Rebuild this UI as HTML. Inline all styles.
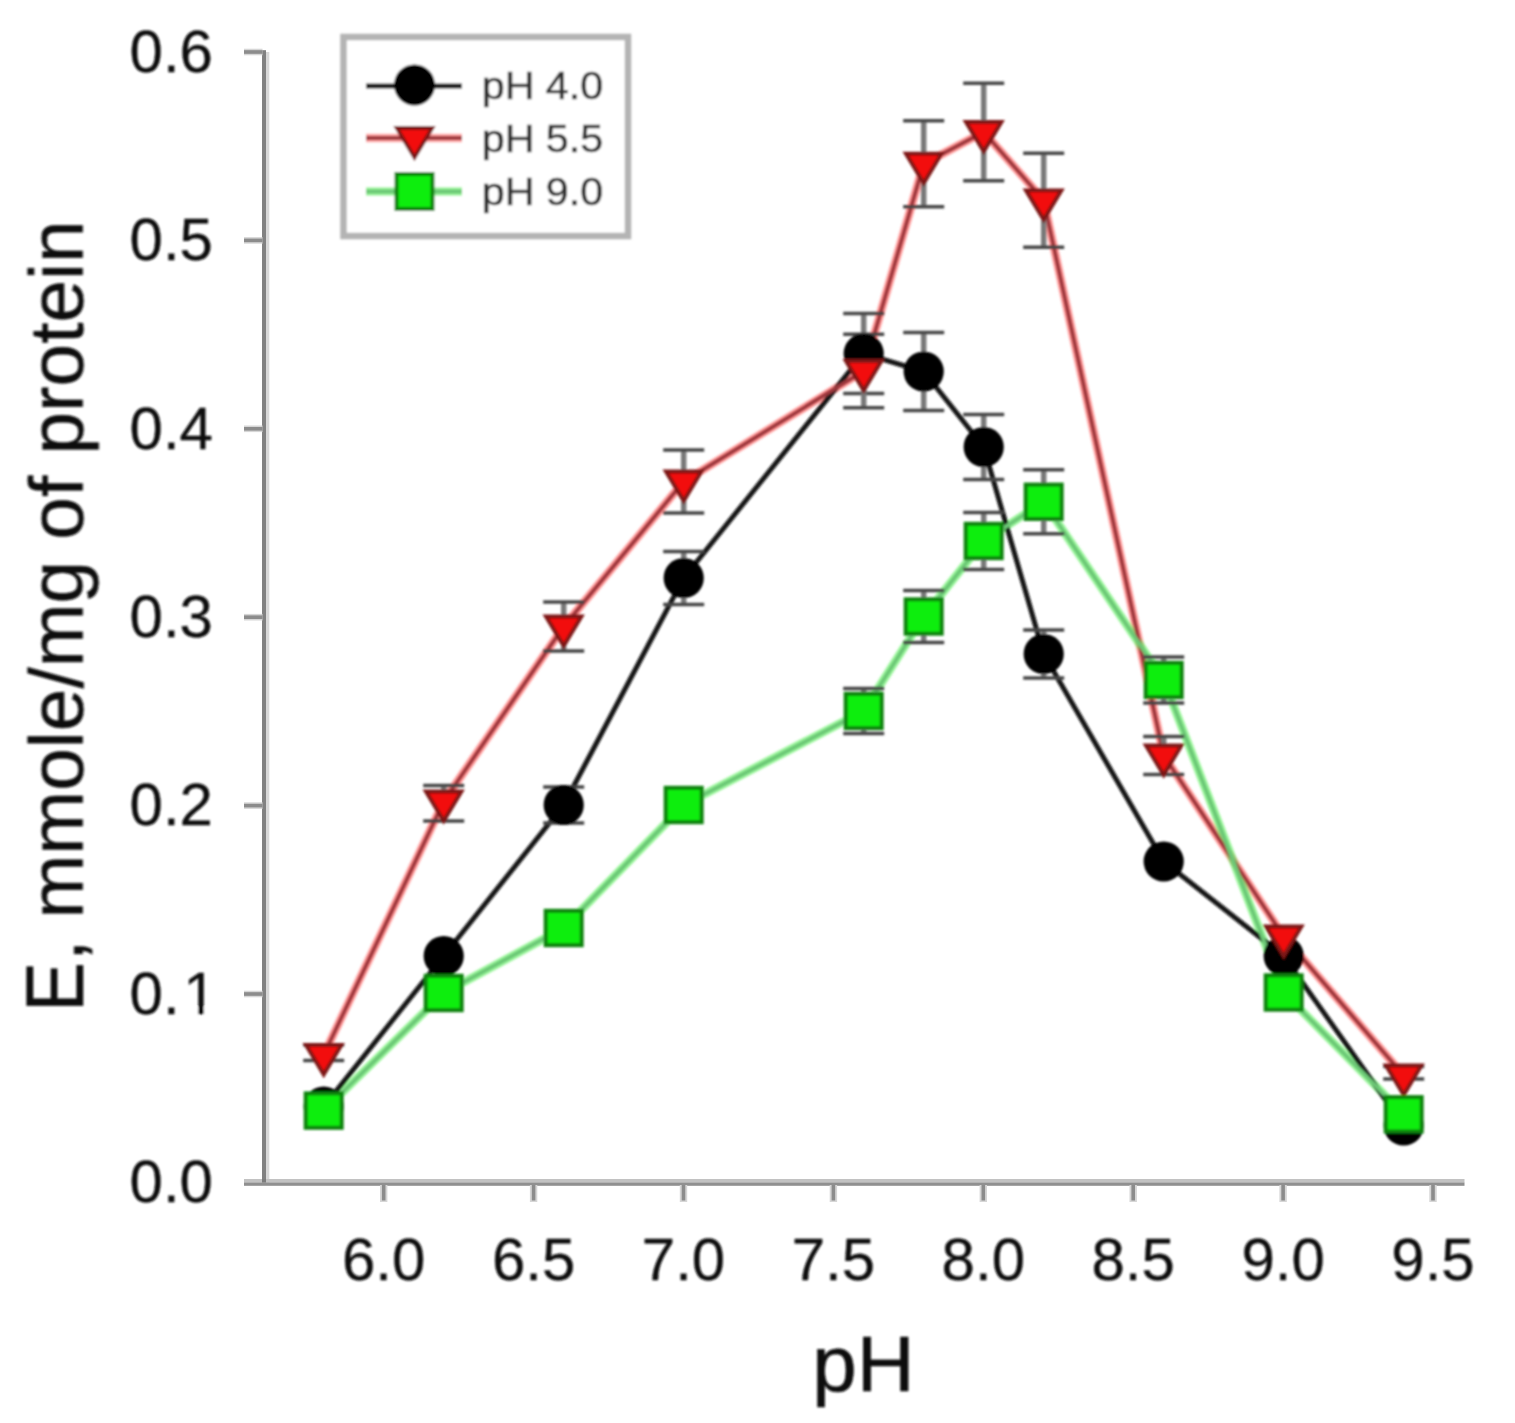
<!DOCTYPE html>
<html><head><meta charset="utf-8"><title>pH chart</title>
<style>
html,body{margin:0;padding:0;background:#fff;}
svg{display:block;font-family:"Liberation Sans",sans-serif;}
.tick{font-size:60px;fill:#111;stroke:#111;stroke-width:0.3;}
.leg{font-size:39.6px;fill:#333;stroke:#333;stroke-width:0.6;}
.st{stroke:#787878;stroke-width:5.5;}
</style></head><body>
<svg width="1515" height="1423" viewBox="0 0 1515 1423">
<rect width="1515" height="1423" fill="#fff"/>
<g filter="url(#b2)">
<!-- axes -->
<rect x="262" y="50.2" width="4" height="1132.3" fill="#818181"/>
<rect x="266" y="52" width="3.3" height="1130.5" fill="#d8d8d8"/>
<rect x="244" y="1179" width="1220.5" height="3.4" fill="#c2c2c2"/>
<rect x="244" y="1182.4" width="1220.5" height="3.4" fill="#909090"/>
<rect x="262" y="1179" width="4" height="3.4" fill="#7c7c7c"/>
<g fill="#d6d6d6">
<rect x="244" y="990.7" width="18.5" height="6.6"/><rect x="244" y="802.3" width="18.5" height="6.6"/><rect x="244" y="613.9" width="18.5" height="6.6"/><rect x="244" y="425.5" width="18.5" height="6.6"/><rect x="244" y="237.1" width="18.5" height="6.6"/><rect x="244" y="48.7" width="18.5" height="6.6"/>
<rect x="380.0" y="1185" width="7.4" height="17"/><rect x="529.9" y="1185" width="7.4" height="17"/><rect x="679.8" y="1185" width="7.4" height="17"/><rect x="829.7" y="1185" width="7.4" height="17"/><rect x="979.6" y="1185" width="7.4" height="17"/><rect x="1129.5" y="1185" width="7.4" height="17"/><rect x="1279.4" y="1185" width="7.4" height="17"/><rect x="1429.3" y="1185" width="7.4" height="17"/>
</g>
<g fill="#8c8c8c">
<rect x="244" y="992.2" width="18.5" height="3.6"/><rect x="244" y="803.8" width="18.5" height="3.6"/><rect x="244" y="615.4" width="18.5" height="3.6"/><rect x="244" y="427.0" width="18.5" height="3.6"/><rect x="244" y="238.6" width="18.5" height="3.6"/><rect x="244" y="50.2" width="18.5" height="3.6"/>
<rect x="381.9" y="1185" width="3.6" height="15.5"/><rect x="531.8" y="1185" width="3.6" height="15.5"/><rect x="681.7" y="1185" width="3.6" height="15.5"/><rect x="831.6" y="1185" width="3.6" height="15.5"/><rect x="981.5" y="1185" width="3.6" height="15.5"/><rect x="1131.4" y="1185" width="3.6" height="15.5"/><rect x="1281.3" y="1185" width="3.6" height="15.5"/><rect x="1431.2" y="1185" width="3.6" height="15.5"/>
</g>
</g>
<g filter="url(#b)">
<!-- tick labels -->
<g class="tick" text-anchor="end">
<text transform="translate(213 1202.2) scale(1 1)">0.0</text><text transform="translate(213 825.4) scale(1 1)">0.2</text><text transform="translate(213 637.0) scale(1 1)">0.3</text><text transform="translate(213 448.6) scale(1 1)">0.4</text><text transform="translate(213 260.2) scale(1 1)">0.5</text><text transform="translate(213 71.8) scale(1 1)">0.6</text>
<text transform="translate(216.5 1013.8)">0.<tspan dx="3.5">1</tspan></text>
</g>
<rect x="183" y="1007.2" width="15.1" height="11" fill="#fff"/><rect x="204.0" y="1007.2" width="14" height="11" fill="#fff"/>
<g class="tick" text-anchor="middle">
<text transform="translate(383.7 1279.6) scale(1 1)">6.0</text><text transform="translate(533.6 1279.6) scale(1 1)">6.5</text><text transform="translate(683.5 1279.6) scale(1 1)">7.0</text><text transform="translate(833.4 1279.6) scale(1 1)">7.5</text><text transform="translate(983.3 1279.6) scale(1 1)">8.0</text><text transform="translate(1133.2 1279.6) scale(1 1)">8.5</text><text transform="translate(1283.1 1279.6) scale(1 1)">9.0</text><text transform="translate(1433.0 1279.6) scale(1 1)">9.5</text>
</g>
<text transform="translate(863.4 1391) scale(1.02 1)" text-anchor="middle" font-size="78.5" fill="#111" stroke="#111" stroke-width="0.6">pH</text>
<g font-size="76.6" fill="#111" stroke="#111" stroke-width="0.5">
<text transform="translate(82.6 1012.1) rotate(-90) scale(0.98 1.055)">E</text>
<text transform="translate(82.6 961) rotate(-90)">, mmole/mg of protein</text>
</g>
<!-- legend -->
<rect x="343.5" y="37" width="284.5" height="199" fill="#fff" stroke="#b4b4b4" stroke-width="6.5"/>
<path d="M366 86H462" stroke="#151515" stroke-width="5"/>
<circle cx="414.5" cy="85" r="20.5" fill="#000"/>
<path d="M366 138H462" stroke="#ff6060" stroke-width="8.5" opacity=".62"/><path d="M366 138H462" stroke="#9e383c" stroke-width="3.9"/>
<path d="M396.7 128h35.6l-17.8 29.5z" fill="#f20a0a" stroke="#7e1512" stroke-width="3.8" stroke-linejoin="miter"/>
<path d="M366 191.5H462" stroke="#58f058" stroke-width="8.5" opacity=".6"/><path d="M366 191.5H462" stroke="#6cc876" stroke-width="4"/>
<rect x="396.5" y="174" width="36" height="35" fill="#0cee0c" stroke="#0a8410" stroke-width="4"/>
<g class="leg">
<text transform="translate(481.8 99.1) scale(1.04 1)">pH 4.0</text>
<text transform="translate(481.8 151.6) scale(1.04 1)">pH 5.5</text>
<text transform="translate(481.8 205.4) scale(1.04 1)">pH 9.0</text>
</g>
<!-- lines -->
<g fill="none" stroke-linejoin="round">
<polyline points="323.7,1055.0 443.7,801.5 563.7,626.5 683.7,481.5 863.7,371.0 923.7,163.7 983.7,132.0 1043.7,200.3 1163.7,755.5 1283.7,936.5 1403.7,1075.5" stroke="#ff6060" stroke-width="8.5" opacity="0.62"/>
<polyline points="323.7,1110.6 443.7,993.0 563.7,928.0 683.7,805.0 863.7,711.0 923.7,616.5 983.7,541.0 1043.7,501.8 1163.7,680.0 1283.7,992.5 1403.7,1114.3" stroke="#58f058" stroke-width="8.5" opacity="0.6"/>
<polyline points="323.7,1106.6 443.7,956.0 563.7,805.0 683.7,578.0 863.7,353.6 923.7,371.5 983.7,447.0 1043.7,654.0 1163.7,861.5 1283.7,956.0 1403.7,1125.5" stroke="#151515" stroke-width="5"/>
<polyline points="323.7,1055.0 443.7,801.5 563.7,626.5 683.7,481.5 863.7,371.0 923.7,163.7 983.7,132.0 1043.7,200.3 1163.7,755.5 1283.7,936.5 1403.7,1075.5" stroke="#9e383c" stroke-width="3.9"/>
<polyline points="323.7,1110.6 443.7,993.0 563.7,928.0 683.7,805.0 863.7,711.0 923.7,616.5 983.7,541.0 1043.7,501.8 1163.7,680.0 1283.7,992.5 1403.7,1114.3" stroke="#6cc876" stroke-width="4"/>
</g>
<!-- error bars -->
<g stroke="#444" stroke-width="3.5" fill="none">
<path class="st" d="M563.7 787.0V823.0"/><path d="M543.2 787.0h41M543.2 823.0h41"/>
<path class="st" d="M683.7 551.5V604.5"/><path d="M663.2 551.5h41M663.2 604.5h41"/>
<path class="st" d="M863.7 313.6V393.6"/><path d="M843.2 313.6h41M843.2 393.6h41"/>
<path class="st" d="M923.7 332.5V410.5"/><path d="M903.2 332.5h41M903.2 410.5h41"/>
<path class="st" d="M983.7 414.5V479.5"/><path d="M963.2 414.5h41M963.2 479.5h41"/>
<path class="st" d="M1043.7 630.0V678.0"/><path d="M1023.2 630.0h41M1023.2 678.0h41"/>
<path class="st" d="M323.7 1045.1V1060.5"/><path d="M303.2 1045.1h41M303.2 1060.5h41"/>
<path class="st" d="M443.7 785.6V821.0"/><path d="M423.2 785.6h41M423.2 821.0h41"/>
<path class="st" d="M563.7 602.0V651.0"/><path d="M543.2 602.0h41M543.2 651.0h41"/>
<path class="st" d="M683.7 450.0V513.0"/><path d="M663.2 450.0h41M663.2 513.0h41"/>
<path class="st" d="M863.7 334.2V407.8"/><path d="M843.2 334.2h41M843.2 407.8h41"/>
<path class="st" d="M923.7 120.7V206.7"/><path d="M903.2 120.7h41M903.2 206.7h41"/>
<path class="st" d="M983.7 83.3V180.7"/><path d="M963.2 83.3h41M963.2 180.7h41"/>
<path class="st" d="M1043.7 153.3V247.3"/><path d="M1023.2 153.3h41M1023.2 247.3h41"/>
<path class="st" d="M1163.7 736.5V774.5"/><path d="M1143.2 736.5h41M1143.2 774.5h41"/>
<path class="st" d="M1403.7 1066.5V1079.0"/><path d="M1383.2 1066.5h41M1383.2 1079.0h41"/>
<path class="st" d="M863.7 688.4V733.6"/><path d="M843.2 688.4h41M843.2 733.6h41"/>
<path class="st" d="M923.7 590.5V642.5"/><path d="M903.2 590.5h41M903.2 642.5h41"/>
<path class="st" d="M983.7 512.5V569.5"/><path d="M963.2 512.5h41M963.2 569.5h41"/>
<path class="st" d="M1043.7 469.8V533.8"/><path d="M1023.2 469.8h41M1023.2 533.8h41"/>
<path class="st" d="M1163.7 657.0V703.0"/><path d="M1143.2 657.0h41M1143.2 703.0h41"/>
</g>
<!-- symbols -->
<g fill="#000">
<circle cx="323.7" cy="1106.6" r="20.1"/>
<circle cx="443.7" cy="956.0" r="20.1"/>
<circle cx="563.7" cy="805.0" r="20.1"/>
<circle cx="683.7" cy="578.0" r="20.1"/>
<circle cx="863.7" cy="353.6" r="20.1"/>
<circle cx="923.7" cy="371.5" r="20.1"/>
<circle cx="983.7" cy="447.0" r="20.1"/>
<circle cx="1043.7" cy="654.0" r="20.1"/>
<circle cx="1163.7" cy="861.5" r="20.1"/>
<circle cx="1283.7" cy="956.0" r="20.1"/>
<circle cx="1403.7" cy="1125.5" r="20.1"/>
</g>
<g fill="#f20a0a" stroke="#7e1512" stroke-width="3.8">
<path d="M305.9 1045.0h35.6l-17.8 29.5z"/>
<path d="M425.9 791.5h35.6l-17.8 29.5z"/>
<path d="M545.9 616.5h35.6l-17.8 29.5z"/>
<path d="M665.9 471.5h35.6l-17.8 29.5z"/>
<path d="M845.9 361.0h35.6l-17.8 29.5z"/>
<path d="M905.9 153.7h35.6l-17.8 29.5z"/>
<path d="M965.9 122.0h35.6l-17.8 29.5z"/>
<path d="M1025.9 190.3h35.6l-17.8 29.5z"/>
<path d="M1145.9 745.5h35.6l-17.8 29.5z"/>
<path d="M1265.9 926.5h35.6l-17.8 29.5z"/>
<path d="M1385.9 1065.5h35.6l-17.8 29.5z"/>
</g>
<g fill="#0cee0c" stroke="#0a8410" stroke-width="4">
<rect x="305.7" y="1093.4" width="36" height="34.4"/>
<rect x="425.7" y="975.8" width="36" height="34.4"/>
<rect x="545.7" y="910.8" width="36" height="34.4"/>
<rect x="665.7" y="787.8" width="36" height="34.4"/>
<rect x="845.7" y="693.8" width="36" height="34.4"/>
<rect x="905.7" y="599.3" width="36" height="34.4"/>
<rect x="965.7" y="523.8" width="36" height="34.4"/>
<rect x="1025.7" y="484.6" width="36" height="34.4"/>
<rect x="1145.7" y="662.8" width="36" height="34.4"/>
<rect x="1265.7" y="975.3" width="36" height="34.4"/>
<rect x="1385.7" y="1097.1" width="36" height="34.4"/>
</g>
</g>
<defs><filter id="b2" x="0" y="0" width="1515" height="1423" filterUnits="userSpaceOnUse"><feGaussianBlur stdDeviation="0.6"/></filter><filter id="b" x="0" y="0" width="1515" height="1423" filterUnits="userSpaceOnUse"><feGaussianBlur stdDeviation="1.2"/></filter></defs>
</svg>
</body></html>
